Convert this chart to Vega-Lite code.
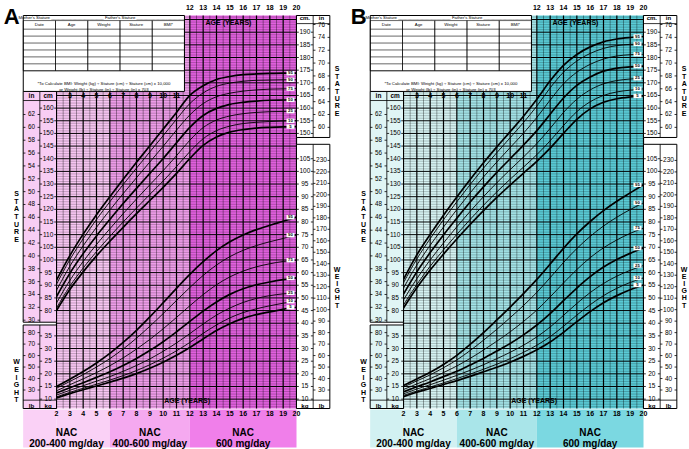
{
"$schema":"https://vega.github.io/schema/vega-lite/v6.json",
"background":"#ffffff",
"padding":{"left":3.5,"top":3.5,"right":0,"bottom":0},
"spacing":10,
"resolve":{"scale":{"x":"independent","y":"independent","color":"independent","fill":"independent"}},
"config":{"view":{"stroke":null},"text":{"font":"Liberation Sans, Arial, sans-serif","color":"#000"}},
"datasets":{
"gS":[
{"age":2,"5":80.0,"10":81.0,"25":83.0,"50":85.5,"75":88.0,"90":90.4,"95":92.0},
{"age":3,"5":88.3,"10":89.6,"25":91.9,"50":94.7,"75":97.5,"90":100.1,"95":101.7},
{"age":4,"5":95.3,"10":96.8,"25":99.4,"50":102.5,"75":105.6,"90":108.4,"95":110.2},
{"age":5,"5":101.6,"10":103.3,"25":106.1,"50":109.5,"75":112.9,"90":116.0,"95":117.9},
{"age":6,"5":107.4,"10":109.3,"25":112.3,"50":116.0,"75":119.7,"90":123.0,"95":125.0},
{"age":7,"5":112.9,"10":115.0,"25":118.3,"50":122.3,"75":126.2,"90":129.8,"95":131.9},
{"age":8,"5":118.3,"10":120.5,"25":124.1,"50":128.3,"75":132.5,"90":136.3,"95":138.6},
{"age":9,"5":123.5,"10":125.9,"25":129.7,"50":134.2,"75":138.7,"90":142.7,"95":145.1},
{"age":10,"5":128.7,"10":131.2,"25":135.3,"50":140.1,"75":144.9,"90":149.1,"95":151.7},
{"age":11,"5":134.2,"10":136.9,"25":141.2,"50":146.3,"75":151.3,"90":155.6,"95":158.3},
{"age":12,"5":140.1,"10":142.8,"25":147.3,"50":152.4,"75":157.3,"90":161.8,"95":165.0},
{"age":13,"5":145.3,"10":147.9,"25":152.3,"50":157.1,"75":161.8,"90":166.0,"95":168.8},
{"age":14,"5":148.6,"10":151.1,"25":155.3,"50":159.9,"75":164.5,"90":168.6,"95":171.3},
{"age":15,"5":150.5,"10":152.9,"25":156.9,"50":161.5,"75":165.9,"90":169.9,"95":172.5},
{"age":16,"5":151.5,"10":153.9,"25":157.8,"50":162.3,"75":166.7,"90":170.6,"95":173.2},
{"age":17,"5":152.1,"10":154.4,"25":158.3,"50":162.8,"75":167.2,"90":171.0,"95":173.5},
{"age":18,"5":152.4,"10":154.7,"25":158.6,"50":163.1,"75":167.5,"90":171.1,"95":173.7},
{"age":19,"5":152.6,"10":154.9,"25":158.7,"50":163.2,"75":167.6,"90":171.2,"95":173.8},
{"age":20,"5":152.7,"10":155.0,"25":158.8,"50":163.3,"75":167.7,"90":171.2,"95":173.8}],
"gW":[
{"age":2,"5":10.5,"10":10.9,"25":11.6,"50":12.4,"75":13.3,"90":14.3,"95":15.0},
{"age":3,"5":12.2,"10":12.7,"25":13.5,"50":14.5,"75":15.7,"90":17.0,"95":17.9},
{"age":4,"5":13.7,"10":14.3,"25":15.3,"50":16.5,"75":18.0,"90":19.7,"95":20.9},
{"age":5,"5":15.2,"10":15.9,"25":17.1,"50":18.6,"75":20.5,"90":22.7,"95":24.3},
{"age":6,"5":16.7,"10":17.5,"25":18.9,"50":20.8,"75":23.2,"90":26.0,"95":28.1},
{"age":7,"5":18.3,"10":19.3,"25":21.0,"50":23.3,"75":26.3,"90":29.8,"95":32.4},
{"age":8,"5":20.1,"10":21.3,"25":23.3,"50":26.1,"75":29.8,"90":34.1,"95":37.2},
{"age":9,"5":22.2,"10":23.6,"25":25.9,"50":29.2,"75":33.6,"90":38.8,"95":42.5},
{"age":10,"5":24.6,"10":26.2,"25":28.9,"50":32.7,"75":37.8,"90":43.8,"95":48.1},
{"age":11,"5":27.3,"10":29.1,"25":32.2,"50":36.6,"75":42.3,"90":49.0,"95":53.8},
{"age":12,"5":30.4,"10":32.4,"25":35.9,"50":40.7,"75":46.9,"90":54.1,"95":59.3},
{"age":13,"5":33.8,"10":36.0,"25":39.7,"50":44.8,"75":51.3,"90":58.9,"95":64.3},
{"age":14,"5":37.1,"10":39.3,"25":43.2,"50":48.4,"75":55.2,"90":63.0,"95":68.7},
{"age":15,"5":39.8,"10":42.1,"25":46.0,"50":51.4,"75":58.3,"90":66.3,"95":72.2},
{"age":16,"5":41.9,"10":44.2,"25":48.2,"50":53.6,"75":60.6,"90":68.8,"95":74.9},
{"age":17,"5":43.4,"10":45.7,"25":49.8,"50":55.2,"75":62.3,"90":70.7,"95":77.0},
{"age":18,"5":44.5,"10":46.9,"25":50.9,"50":56.3,"75":63.5,"90":72.2,"95":78.7},
{"age":19,"5":45.5,"10":47.9,"25":51.6,"50":57.2,"75":64.4,"90":73.5,"95":80.3},
{"age":20,"5":46.3,"10":48.7,"25":52.0,"50":57.9,"75":64.9,"90":74.8,"95":81.9}],
"bS":[
{"age":2,"5":81.0,"10":82.2,"25":84.2,"50":86.5,"75":88.9,"90":91.0,"95":92.3},
{"age":3,"5":89.0,"10":90.3,"25":92.6,"50":95.3,"75":98.0,"90":100.4,"95":102.0},
{"age":4,"5":96.0,"10":97.5,"25":100.0,"50":102.9,"75":105.8,"90":108.4,"95":110.1},
{"age":5,"5":102.3,"10":104.0,"25":106.7,"50":109.9,"75":113.0,"90":115.9,"95":117.7},
{"age":6,"5":108.3,"10":110.1,"25":113.1,"50":116.5,"75":119.9,"90":123.0,"95":124.9},
{"age":7,"5":114.0,"10":116.0,"25":119.2,"50":122.9,"75":126.5,"90":129.8,"95":131.8},
{"age":8,"5":119.5,"10":121.6,"25":125.0,"50":128.9,"75":132.8,"90":136.3,"95":138.4},
{"age":9,"5":124.7,"10":126.9,"25":130.5,"50":134.6,"75":138.7,"90":142.4,"95":144.7},
{"age":10,"5":129.6,"10":131.9,"25":135.7,"50":140.0,"75":144.4,"90":148.3,"95":150.7},
{"age":11,"5":134.3,"10":136.7,"25":140.7,"50":145.4,"75":150.1,"90":154.3,"95":156.8},
{"age":12,"5":139.0,"10":141.6,"25":146.0,"50":151.1,"75":156.3,"90":160.8,"95":163.5},
{"age":13,"5":144.2,"10":147.1,"25":152.0,"50":157.6,"75":163.2,"90":168.0,"95":170.8},
{"age":14,"5":150.0,"10":153.1,"25":158.3,"50":164.0,"75":169.6,"90":174.2,"95":176.9},
{"age":15,"5":155.6,"10":158.6,"25":163.5,"50":169.0,"75":174.2,"90":178.6,"95":181.2},
{"age":16,"5":159.7,"10":162.5,"25":167.2,"50":172.3,"75":177.3,"90":181.6,"95":184.2},
{"age":17,"5":162.3,"10":165.0,"25":169.6,"50":174.6,"75":179.4,"90":183.6,"95":186.2},
{"age":18,"5":163.7,"10":166.4,"25":170.9,"50":175.8,"75":180.6,"90":184.7,"95":187.3},
{"age":19,"5":164.4,"10":167.1,"25":171.5,"50":176.3,"75":181.1,"90":185.2,"95":187.9},
{"age":20,"5":164.8,"10":167.6,"25":171.8,"50":176.6,"75":181.3,"90":185.4,"95":188.3}],
"bW":[
{"age":2,"5":11.0,"10":11.5,"25":12.1,"50":12.9,"75":13.8,"90":14.8,"95":15.4},
{"age":3,"5":12.7,"10":13.2,"25":14.0,"50":14.9,"75":16.0,"90":17.2,"95":18.0},
{"age":4,"5":14.2,"10":14.8,"25":15.7,"50":16.8,"75":18.1,"90":19.6,"95":20.6},
{"age":5,"5":15.8,"10":16.4,"25":17.5,"50":18.9,"75":20.5,"90":22.4,"95":23.7},
{"age":6,"5":17.3,"10":18.1,"25":19.4,"50":21.0,"75":23.1,"90":25.5,"95":27.3},
{"age":7,"5":19.0,"10":19.9,"25":21.4,"50":23.5,"75":26.1,"90":29.2,"95":31.6},
{"age":8,"5":20.8,"10":21.8,"25":23.6,"50":26.1,"75":29.4,"90":33.3,"95":36.3},
{"age":9,"5":22.6,"10":23.8,"25":26.0,"50":29.0,"75":32.9,"90":37.6,"95":41.3},
{"age":10,"5":24.6,"10":26.0,"25":28.5,"50":32.0,"75":36.6,"90":42.2,"95":46.4},
{"age":11,"5":26.9,"10":28.5,"25":31.3,"50":35.4,"75":40.7,"90":47.0,"95":51.7},
{"age":12,"5":29.5,"10":31.3,"25":34.6,"50":39.3,"75":45.2,"90":52.2,"95":57.3},
{"age":13,"5":32.6,"10":34.7,"25":38.5,"50":43.8,"75":50.4,"90":58.0,"95":63.4},
{"age":14,"5":36.4,"10":38.8,"25":43.1,"50":48.9,"75":55.9,"90":64.0,"95":69.6},
{"age":15,"5":40.6,"10":43.2,"25":47.8,"50":53.9,"75":61.2,"90":69.5,"95":75.3},
{"age":16,"5":44.6,"10":47.3,"25":52.1,"50":58.4,"75":65.9,"90":74.3,"95":80.2},
{"age":17,"5":48.1,"10":50.9,"25":55.7,"50":62.2,"75":69.8,"90":78.4,"95":84.5},
{"age":18,"5":50.9,"10":53.8,"25":58.6,"50":65.2,"75":72.9,"90":81.9,"95":88.2},
{"age":19,"5":53.2,"10":56.1,"25":60.9,"50":67.6,"75":75.5,"90":84.9,"95":91.5},
{"age":20,"5":55.1,"10":57.9,"25":62.8,"50":69.7,"75":77.6,"90":87.6,"95":94.7}],
"bands":[{"from":2,"to":6,"dose":"NAC\n200-400 mg/day"},{"from":6,"to":12,"dose":"NAC\n400-600 mg/day"},{"from":12,"to":20,"dose":"NAC\n600 mg/day"}],
"vg":[{"a":2},{"a":2.5},{"a":3},{"a":3.5},{"a":4},{"a":4.5},{"a":5},{"a":5.5},{"a":6},{"a":6.5},{"a":7},{"a":7.5},{"a":8},{"a":8.5},{"a":9},{"a":9.5},{"a":10},{"a":10.5},{"a":11},{"a":11.5},{"a":12},{"a":12.5},{"a":13},{"a":13.5},{"a":14},{"a":14.5},{"a":15},{"a":15.5},{"a":16},{"a":16.5},{"a":17},{"a":17.5},{"a":18},{"a":18.5},{"a":19},{"a":19.5},{"a":20}],
"hg":[{"c":42},{"c":43},{"c":44},{"c":45},{"c":46},{"c":47},{"c":48},{"c":49},{"c":50},{"c":51},{"c":52},{"c":53},{"c":54},{"c":55},{"c":56},{"c":57},{"c":58},{"c":59},{"c":60},{"c":61},{"c":62},{"c":63},{"c":64},{"c":65},{"c":66},{"c":67},{"c":68},{"c":69},{"c":70},{"c":71},{"c":72},{"c":73},{"c":74},{"c":75},{"c":76},{"c":77},{"c":78},{"c":79},{"c":80},{"c":81},{"c":82},{"c":83},{"c":84},{"c":85},{"c":86},{"c":87},{"c":88},{"c":89},{"c":90},{"c":91},{"c":92},{"c":93},{"c":94},{"c":95},{"c":96},{"c":97},{"c":98},{"c":99},{"c":100},{"c":101},{"c":102},{"c":103},{"c":104},{"c":105},{"c":106},{"c":107},{"c":108},{"c":109},{"c":110},{"c":111},{"c":112},{"c":113},{"c":114},{"c":115},{"c":116},{"c":117},{"c":118},{"c":119},{"c":120},{"c":121},{"c":122},{"c":123},{"c":124},{"c":125},{"c":126},{"c":127},{"c":128},{"c":129},{"c":130},{"c":131},{"c":132},{"c":133},{"c":134},{"c":135},{"c":136},{"c":137},{"c":138},{"c":139},{"c":140},{"c":141},{"c":142},{"c":143},{"c":144},{"c":145},{"c":146},{"c":147},{"c":148},{"c":149},{"c":150},{"c":151},{"c":152},{"c":153},{"c":154},{"c":155},{"c":156},{"c":157},{"c":158},{"c":159},{"c":160},{"c":161},{"c":162},{"c":163},{"c":164},{"c":165},{"c":166},{"c":167},{"c":168},{"c":169},{"c":170},{"c":171},{"c":172},{"c":173},{"c":174},{"c":175},{"c":176},{"c":177},{"c":178},{"c":179},{"c":180},{"c":181},{"c":182},{"c":183},{"c":184},{"c":185},{"c":186},{"c":187},{"c":188},{"c":189},{"c":190},{"c":191},{"c":192},{"c":193},{"c":194},{"c":195},{"c":196}],
"one":[{}],
"sides":[{"s":0},{"s":1}],
"formRows":[{"row":1},{"row":2},{"row":3},{"row":4},{"row":5},{"row":6},{"row":7}],
"formCols":[{"col":1,"head":"Date"},{"col":2,"head":"Age"},{"col":3,"head":"Weight"},{"col":4,"head":"Stature"},{"col":5,"head":"BMI*"}],
"cmT":[{"s":0,"v":80},{"s":0,"v":85},{"s":0,"v":90},{"s":0,"v":95},{"s":0,"v":100},{"s":0,"v":105},{"s":0,"v":110},{"s":0,"v":115},{"s":0,"v":120},{"s":0,"v":125},{"s":0,"v":130},{"s":0,"v":135},{"s":0,"v":140},{"s":0,"v":145},{"s":0,"v":150},{"s":0,"v":155},{"s":0,"v":160},{"s":1,"v":150},{"s":1,"v":155},{"s":1,"v":160},{"s":1,"v":165},{"s":1,"v":170},{"s":1,"v":175},{"s":1,"v":180},{"s":1,"v":185},{"s":1,"v":190}],
"inT":[{"s":0,"v":30},{"s":0,"v":32},{"s":0,"v":34},{"s":0,"v":36},{"s":0,"v":38},{"s":0,"v":40},{"s":0,"v":42},{"s":0,"v":44},{"s":0,"v":46},{"s":0,"v":48},{"s":0,"v":50},{"s":0,"v":52},{"s":0,"v":54},{"s":0,"v":56},{"s":0,"v":58},{"s":0,"v":60},{"s":0,"v":62},{"s":1,"v":60},{"s":1,"v":62},{"s":1,"v":64},{"s":1,"v":66},{"s":1,"v":68},{"s":1,"v":70},{"s":1,"v":72},{"s":1,"v":74},{"s":1,"v":76}],
"kgT":[{"s":0,"v":10},{"s":0,"v":15},{"s":0,"v":20},{"s":0,"v":25},{"s":0,"v":30},{"s":0,"v":35},{"s":1,"v":10},{"s":1,"v":15},{"s":1,"v":20},{"s":1,"v":25},{"s":1,"v":30},{"s":1,"v":35},{"s":1,"v":40},{"s":1,"v":45},{"s":1,"v":50},{"s":1,"v":55},{"s":1,"v":60},{"s":1,"v":65},{"s":1,"v":70},{"s":1,"v":75},{"s":1,"v":80},{"s":1,"v":85},{"s":1,"v":90},{"s":1,"v":95},{"s":1,"v":100},{"s":1,"v":105}],
"lbT":[{"s":0,"v":30},{"s":0,"v":40},{"s":0,"v":50},{"s":0,"v":60},{"s":0,"v":70},{"s":0,"v":80},{"s":1,"v":30},{"s":1,"v":40},{"s":1,"v":50},{"s":1,"v":60},{"s":1,"v":70},{"s":1,"v":80},{"s":1,"v":90},{"s":1,"v":100},{"s":1,"v":110},{"s":1,"v":120},{"s":1,"v":130},{"s":1,"v":140},{"s":1,"v":150},{"s":1,"v":160},{"s":1,"v":170},{"s":1,"v":180},{"s":1,"v":190},{"s":1,"v":200},{"s":1,"v":210},{"s":1,"v":220},{"s":1,"v":230}]
},
"hconcat":[
{"width":240,"height":393,
"resolve":{"scale":{"x":"independent","y":"independent","color":"independent","fill":"independent"}},
"layer":[
{"layer":[
{"data":{"name":"bands"},"mark":{"type":"rect"},"encoding":{
"x":{"field":"from","type":"quantitative","scale":{"domain":[2,20],"nice":false,"zero":false},"axis":null},
"x2":{"field":"to"},
"y":{"datum":41.3,"type":"quantitative","scale":{"domain":[41.3,196.6],"nice":false,"zero":false},"axis":null},
"y2":{"datum":196.6},
"color":{"field":"dose","type":"nominal","scale":{"domain":["NAC\n200-400 mg/day","NAC\n400-600 mg/day","NAC\n600 mg/day"],"range":["#f7c6f2","#ee9de9","#e160de"]},"legend":null}}},
{"data":{"name":"hg"},"mark":{"type":"rule","color":"#000"},"encoding":{"x":{"datum":2,"type":"quantitative","scale":{"domain":[2,20],"nice":false,"zero":false},"axis":null},"x2":{"datum":20},"y":{"field":"c","type":"quantitative","scale":{"domain":[41.3,196.6],"nice":false,"zero":false},"axis":null},"strokeWidth":{"condition":{"test":"datum.c % 5 === 0","value":1},"value":0.4},"opacity":{"condition":{"test":"datum.c % 5 === 0","value":1},"value":0.55}}},
{"data":{"name":"vg"},"mark":{"type":"rule","color":"#000"},"encoding":{"x":{"field":"a","type":"quantitative","scale":{"domain":[2,20],"nice":false,"zero":false},"axis":null},"y":{"datum":41.3,"type":"quantitative","scale":{"domain":[41.3,196.6],"nice":false,"zero":false},"axis":null},"y2":{"datum":196.6},"strokeWidth":{"condition":{"test":"datum.a % 1 === 0","value":1.2},"value":0.5},"opacity":{"condition":{"test":"datum.a % 1 === 0","value":1},"value":0.7}}},
{"data":{"name":"gS"},"transform":[{"fold":["5","10","25","50","75","90","95"],"as":["pct","cm"]}],"mark":{"type":"line","interpolate":"monotone","color":"#000"},"encoding":{"x":{"field":"age","type":"quantitative","scale":{"domain":[2,20],"nice":false,"zero":false},"axis":null},"y":{"field":"cm","type":"quantitative","scale":{"domain":[41.3,196.6],"nice":false,"zero":false},"axis":null},"detail":{"field":"pct","type":"nominal"},"strokeWidth":{"condition":{"test":"datum.pct==='5'||datum.pct==='50'||datum.pct==='95'","value":1.7},"value":0.9}}},
{"data":{"name":"gS"},"transform":[{"filter":"datum.age===20"},{"fold":["5","10","25","50","75","90","95"],"as":["pct","cm"]}],"mark":{"type":"rect","fill":"#fff","yOffset":-2.2,"y2Offset":2.2},"encoding":{"x":{"datum":19.25,"type":"quantitative","scale":{"domain":[2,20],"nice":false,"zero":false},"axis":null},"x2":{"datum":19.85},"y":{"field":"cm","type":"quantitative","scale":{"domain":[41.3,196.6],"nice":false,"zero":false},"axis":null},"y2":{"field":"cm"}}},
{"data":{"name":"gS"},"transform":[{"filter":"datum.age===20"},{"fold":["5","10","25","50","75","90","95"],"as":["pct","cm"]}],"mark":{"type":"text","fontSize":4.3,"fontWeight":"bold","align":"center","baseline":"middle"},"encoding":{"x":{"datum":19.55,"type":"quantitative","scale":{"domain":[2,20],"nice":false,"zero":false},"axis":null},"y":{"field":"cm","type":"quantitative","scale":{"domain":[41.3,196.6],"nice":false,"zero":false},"axis":null},"text":{"field":"pct","type":"nominal"}}},
{"data":{"name":"one"},"mark":{"type":"rect","fill":"#f8cdf4","stroke":"#000","strokeWidth":1},"encoding":{"x":{"datum":-0.5,"type":"quantitative","scale":{"domain":[2,20],"nice":false,"zero":false},"axis":null},"x2":{"datum":2},"y":{"datum":75.4,"type":"quantitative","scale":{"domain":[41.3,196.6],"nice":false,"zero":false},"axis":null},"y2":{"datum":166.6}}},
{"data":{"name":"one"},"mark":{"type":"rect","fill":"#f8cdf4","stroke":"#000","strokeWidth":1},"encoding":{"x":{"datum":-0.5,"type":"quantitative","scale":{"domain":[2,20],"nice":false,"zero":false},"axis":null},"x2":{"datum":2},"y":{"datum":41.3,"type":"quantitative","scale":{"domain":[41.3,196.6],"nice":false,"zero":false},"axis":null},"y2":{"datum":74.3}}},
{"data":{"name":"one"},"mark":{"type":"rect","fill":"#ffffff","stroke":"#000","strokeWidth":1},"encoding":{"x":{"datum":20,"type":"quantitative","scale":{"domain":[2,20],"nice":false,"zero":false},"axis":null},"x2":{"datum":22.5},"y":{"datum":148.4,"type":"quantitative","scale":{"domain":[41.3,196.6],"nice":false,"zero":false},"axis":null},"y2":{"datum":196.6}}},
{"data":{"name":"one"},"mark":{"type":"rect","fill":"#ffffff","stroke":"#000","strokeWidth":1},"encoding":{"x":{"datum":20,"type":"quantitative","scale":{"domain":[2,20],"nice":false,"zero":false},"axis":null},"x2":{"datum":22.5},"y":{"datum":41.3,"type":"quantitative","scale":{"domain":[41.3,196.6],"nice":false,"zero":false},"axis":null},"y2":{"datum":145.7}}},
{"data":{"name":"one"},"mark":{"type":"rule","color":"#000","strokeWidth":0.8},"encoding":{"x":{"datum":0.75,"type":"quantitative","scale":{"domain":[2,20],"nice":false,"zero":false},"axis":null},"y":{"datum":75.4,"type":"quantitative","scale":{"domain":[41.3,196.6],"nice":false,"zero":false},"axis":null},"y2":{"datum":166.6}}},
{"data":{"name":"one"},"mark":{"type":"rule","color":"#000","strokeWidth":0.8},"encoding":{"x":{"datum":0.75,"type":"quantitative","scale":{"domain":[2,20],"nice":false,"zero":false},"axis":null},"y":{"datum":41.3,"type":"quantitative","scale":{"domain":[41.3,196.6],"nice":false,"zero":false},"axis":null},"y2":{"datum":74.3}}},
{"data":{"name":"one"},"mark":{"type":"rule","color":"#000","strokeWidth":0.8},"encoding":{"x":{"datum":21.25,"type":"quantitative","scale":{"domain":[2,20],"nice":false,"zero":false},"axis":null},"y":{"datum":148.4,"type":"quantitative","scale":{"domain":[41.3,196.6],"nice":false,"zero":false},"axis":null},"y2":{"datum":196.6}}},
{"data":{"name":"one"},"mark":{"type":"rule","color":"#000","strokeWidth":0.8},"encoding":{"x":{"datum":21.25,"type":"quantitative","scale":{"domain":[2,20],"nice":false,"zero":false},"axis":null},"y":{"datum":41.3,"type":"quantitative","scale":{"domain":[41.3,196.6],"nice":false,"zero":false},"axis":null},"y2":{"datum":145.7}}},
{"data":{"name":"one"},"mark":{"type":"rule","color":"#000","strokeWidth":0.8},"encoding":{"x":{"datum":-0.5,"type":"quantitative","scale":{"domain":[2,20],"nice":false,"zero":false},"axis":null},"x2":{"datum":2},"y":{"datum":163.0,"type":"quantitative","scale":{"domain":[41.3,196.6],"nice":false,"zero":false},"axis":null}}},
{"data":{"name":"one"},"mark":{"type":"rule","color":"#000","strokeWidth":0.8},"encoding":{"x":{"datum":-0.5,"type":"quantitative","scale":{"domain":[2,20],"nice":false,"zero":false},"axis":null},"x2":{"datum":2},"y":{"datum":44.6,"type":"quantitative","scale":{"domain":[41.3,196.6],"nice":false,"zero":false},"axis":null}}},
{"data":{"name":"one"},"mark":{"type":"rule","color":"#000","strokeWidth":0.8},"encoding":{"x":{"datum":20,"type":"quantitative","scale":{"domain":[2,20],"nice":false,"zero":false},"axis":null},"x2":{"datum":22.5},"y":{"datum":193.4,"type":"quantitative","scale":{"domain":[41.3,196.6],"nice":false,"zero":false},"axis":null}}},
{"data":{"name":"one"},"mark":{"type":"rule","color":"#000","strokeWidth":0.8},"encoding":{"x":{"datum":20,"type":"quantitative","scale":{"domain":[2,20],"nice":false,"zero":false},"axis":null},"x2":{"datum":22.5},"y":{"datum":44.6,"type":"quantitative","scale":{"domain":[41.3,196.6],"nice":false,"zero":false},"axis":null}}},
{"data":{"name":"bands"},"mark":{"type":"rect"},"encoding":{"x":{"field":"from","type":"quantitative","scale":{"domain":[2,20],"nice":false,"zero":false},"axis":null},"x2":{"field":"to"},"y":{"datum":25.85,"type":"quantitative","scale":{"domain":[41.3,196.6],"nice":false,"zero":false},"axis":null},"y2":{"datum":40.87},"fill":{"field":"dose","type":"nominal","scale":{"domain":["NAC\n200-400 mg/day","NAC\n400-600 mg/day","NAC\n600 mg/day"],"range":["#fad1f6","#f5a9f0","#f07fea"]},"legend":null}}},
{"data":{"name":"one"},"mark":{"type":"rect","fill":"#fad1f6"},"encoding":{"x":{"datum":-0.5,"type":"quantitative","scale":{"domain":[2,20],"nice":false,"zero":false},"axis":null},"x2":{"datum":2},"y":{"datum":25.85,"type":"quantitative","scale":{"domain":[41.3,196.6],"nice":false,"zero":false},"axis":null},"y2":{"datum":40.87}}},
{"data":{"name":"bands"},"transform":[{"filter":"datum.from===2"}],"mark":{"type":"text","fontSize":10,"fontWeight":"bold","lineBreak":"\n","lineHeight":11.5,"align":"center","baseline":"middle"},"encoding":{"x":{"datum":2.75,"type":"quantitative","scale":{"domain":[2,20],"nice":false,"zero":false},"axis":null},"y":{"datum":31.8,"type":"quantitative","scale":{"domain":[41.3,196.6],"nice":false,"zero":false},"axis":null},"text":{"field":"dose","type":"nominal"}}},
{"data":{"name":"bands"},"transform":[{"filter":"datum.from===6"}],"mark":{"type":"text","fontSize":10,"fontWeight":"bold","lineBreak":"\n","lineHeight":11.5,"align":"center","baseline":"middle"},"encoding":{"x":{"datum":9,"type":"quantitative","scale":{"domain":[2,20],"nice":false,"zero":false},"axis":null},"y":{"datum":31.8,"type":"quantitative","scale":{"domain":[41.3,196.6],"nice":false,"zero":false},"axis":null},"text":{"field":"dose","type":"nominal"}}},
{"data":{"name":"bands"},"transform":[{"filter":"datum.from===12"}],"mark":{"type":"text","fontSize":10,"fontWeight":"bold","lineBreak":"\n","lineHeight":11.5,"align":"center","baseline":"middle"},"encoding":{"x":{"datum":16,"type":"quantitative","scale":{"domain":[2,20],"nice":false,"zero":false},"axis":null},"y":{"datum":31.8,"type":"quantitative","scale":{"domain":[41.3,196.6],"nice":false,"zero":false},"axis":null},"text":{"field":"dose","type":"nominal"}}},
{"data":{"name":"gS"},"mark":{"type":"text","fontSize":7,"fontWeight":"bold","align":"center","baseline":"middle"},"encoding":{"x":{"field":"age","type":"quantitative","scale":{"domain":[2,20],"nice":false,"zero":false},"axis":null},"y":{"datum":39.2,"type":"quantitative","scale":{"domain":[41.3,196.6],"nice":false,"zero":false},"axis":null},"text":{"field":"age","type":"quantitative"}}},
{"data":{"name":"gS"},"transform":[{"filter":"datum.age>=12"}],"mark":{"type":"text","fontSize":7,"fontWeight":"bold","align":"center","baseline":"middle"},"encoding":{"x":{"field":"age","type":"quantitative","scale":{"domain":[2,20],"nice":false,"zero":false},"axis":null},"y":{"datum":199.4,"type":"quantitative","scale":{"domain":[41.3,196.6],"nice":false,"zero":false},"axis":null},"text":{"field":"age","type":"quantitative"}}},
{"data":{"name":"gS"},"transform":[{"filter":"datum.age>=3 && datum.age<=11"}],"mark":{"type":"text","fontSize":7,"fontWeight":"bold","align":"center","baseline":"middle"},"encoding":{"x":{"field":"age","type":"quantitative","scale":{"domain":[2,20],"nice":false,"zero":false},"axis":null},"y":{"datum":164.9,"type":"quantitative","scale":{"domain":[41.3,196.6],"nice":false,"zero":false},"axis":null},"text":{"field":"age","type":"quantitative"}}},
{"data":{"name":"one"},"mark":{"type":"text","text":"AGE (YEARS)","fontSize":7,"fontWeight":"bold","align":"center","baseline":"middle"},"encoding":{"x":{"datum":14.9,"type":"quantitative","scale":{"domain":[2,20],"nice":false,"zero":false},"axis":null},"y":{"datum":193.6,"type":"quantitative","scale":{"domain":[41.3,196.6],"nice":false,"zero":false},"axis":null}}},
{"data":{"name":"one"},"mark":{"type":"text","text":"AGE (YEARS)","fontSize":7,"fontWeight":"bold","align":"center","baseline":"middle"},"encoding":{"x":{"datum":11.8,"type":"quantitative","scale":{"domain":[2,20],"nice":false,"zero":false},"axis":null},"y":{"datum":44.3,"type":"quantitative","scale":{"domain":[41.3,196.6],"nice":false,"zero":false},"axis":null}}},
{"data":{"name":"one"},"mark":{"type":"text","text":"S\nT\nA\nT\nU\nR\nE","lineBreak":"\n","lineHeight":7.6,"fontSize":7,"fontWeight":"bold","align":"center","baseline":"middle"},"encoding":{"x":{"datum":-1.0,"type":"quantitative","scale":{"domain":[2,20],"nice":false,"zero":false},"axis":null},"y":{"datum":126.0,"type":"quantitative","scale":{"domain":[41.3,196.6],"nice":false,"zero":false},"axis":null}}},
{"data":{"name":"one"},"mark":{"type":"text","text":"W\nE\nI\nG\nH\nT","lineBreak":"\n","lineHeight":7.6,"fontSize":7,"fontWeight":"bold","align":"center","baseline":"middle"},"encoding":{"x":{"datum":-1.0,"type":"quantitative","scale":{"domain":[2,20],"nice":false,"zero":false},"axis":null},"y":{"datum":59.5,"type":"quantitative","scale":{"domain":[41.3,196.6],"nice":false,"zero":false},"axis":null}}},
{"data":{"name":"one"},"mark":{"type":"text","text":"S\nT\nA\nT\nU\nR\nE","lineBreak":"\n","lineHeight":7.4,"fontSize":7,"fontWeight":"bold","align":"center","baseline":"middle"},"encoding":{"x":{"datum":23.05,"type":"quantitative","scale":{"domain":[2,20],"nice":false,"zero":false},"axis":null},"y":{"datum":175.3,"type":"quantitative","scale":{"domain":[41.3,196.6],"nice":false,"zero":false},"axis":null}}},
{"data":{"name":"one"},"mark":{"type":"text","text":"W\nE\nI\nG\nH\nT","lineBreak":"\n","lineHeight":7.1,"fontSize":7,"fontWeight":"bold","align":"center","baseline":"middle"},"encoding":{"x":{"datum":23.05,"type":"quantitative","scale":{"domain":[2,20],"nice":false,"zero":false},"axis":null},"y":{"datum":96.0,"type":"quantitative","scale":{"domain":[41.3,196.6],"nice":false,"zero":false},"axis":null}}},
{"data":{"name":"one"},"mark":{"type":"text","text":"A","fontSize":22,"fontWeight":"bold","align":"left","baseline":"alphabetic"},"encoding":{"x":{"datum":-1.95,"type":"quantitative","scale":{"domain":[2,20],"nice":false,"zero":false},"axis":null},"y":{"datum":193.2,"type":"quantitative","scale":{"domain":[41.3,196.6],"nice":false,"zero":false},"axis":null}}}
]},
{"layer":[
{"data":{"name":"gW"},"transform":[{"fold":["5","10","25","50","75","90","95"],"as":["pct","kg"]}],"mark":{"type":"line","interpolate":"monotone","color":"#000"},"encoding":{"x":{"field":"age","type":"quantitative","scale":{"domain":[2,20],"nice":false,"zero":false},"axis":null},"y":{"field":"kg","type":"quantitative","scale":{"domain":[6.3,161.6],"nice":false,"zero":false},"axis":null},"detail":{"field":"pct","type":"nominal"},"strokeWidth":{"condition":{"test":"datum.pct==='5'||datum.pct==='50'||datum.pct==='95'","value":1.7},"value":0.9}}},
{"data":{"name":"gW"},"transform":[{"filter":"datum.age===20"},{"fold":["5","10","25","50","75","90","95"],"as":["pct","kg"]}],"mark":{"type":"rect","fill":"#fff","yOffset":-2.2,"y2Offset":2.2},"encoding":{"x":{"datum":19.25,"type":"quantitative","scale":{"domain":[2,20],"nice":false,"zero":false},"axis":null},"x2":{"datum":19.85},"y":{"field":"kg","type":"quantitative","scale":{"domain":[6.3,161.6],"nice":false,"zero":false},"axis":null},"y2":{"field":"kg"}}},
{"data":{"name":"gW"},"transform":[{"filter":"datum.age===20"},{"fold":["5","10","25","50","75","90","95"],"as":["pct","kg"]}],"mark":{"type":"text","fontSize":4.3,"fontWeight":"bold","align":"center","baseline":"middle"},"encoding":{"x":{"datum":19.55,"type":"quantitative","scale":{"domain":[2,20],"nice":false,"zero":false},"axis":null},"y":{"field":"kg","type":"quantitative","scale":{"domain":[6.3,161.6],"nice":false,"zero":false},"axis":null},"text":{"field":"pct","type":"nominal"}}}
]},
{"layer":[
{"data":{"name":"one"},"mark":{"type":"rect","fill":"#fff","stroke":"#000","strokeWidth":1},"encoding":{"x":{"datum":0.5,"type":"quantitative","scale":{"domain":[1.531,8.975],"nice":false,"zero":false},"axis":null},"x2":{"datum":5.5},"y":{"datum":-0.971,"type":"quantitative","scale":{"domain":[-0.971,55.708],"reverse":true,"nice":false,"zero":false},"axis":null},"y2":{"datum":9.98}}},
{"data":{"name":"formCols"},"mark":{"type":"rect","width":32.24,"fill":"#fff","fillOpacity":0,"stroke":"#000","strokeWidth":0.6},"encoding":{"x":{"field":"col","type":"quantitative","scale":{"domain":[1.531,8.975],"nice":false,"zero":false},"axis":null},"y":{"datum":-0.24,"type":"quantitative","scale":{"domain":[-0.971,55.708],"reverse":true,"nice":false,"zero":false},"axis":null},"y2":{"datum":7}}},
{"data":{"name":"formCols"},"mark":{"type":"text","fontSize":4.3,"align":"center","baseline":"middle"},"encoding":{"x":{"field":"col","type":"quantitative","scale":{"domain":[1.531,8.975],"nice":false,"zero":false},"axis":null},"y":{"datum":0.38,"type":"quantitative","scale":{"domain":[-0.971,55.708],"reverse":true,"nice":false,"zero":false},"axis":null},"text":{"field":"head","type":"nominal"}}},
{"data":{"name":"formRows"},"mark":{"type":"rule","color":"#000","strokeWidth":0.6},"encoding":{"x":{"datum":0.5,"type":"quantitative","scale":{"domain":[1.531,8.975],"nice":false,"zero":false},"axis":null},"x2":{"datum":5.5},"y":{"field":"row","type":"quantitative","scale":{"domain":[-0.971,55.708],"reverse":true,"nice":false,"zero":false},"axis":null}}},
{"data":{"name":"one"},"mark":{"type":"text","text":"Mother's Stature ______________________     Father's Stature ______________________","fontSize":4.3,"align":"center","baseline":"middle"},"encoding":{"x":{"datum":3,"type":"quantitative","scale":{"domain":[1.531,8.975],"nice":false,"zero":false},"axis":null},"y":{"datum":-0.6,"type":"quantitative","scale":{"domain":[-0.971,55.708],"reverse":true,"nice":false,"zero":false},"axis":null}}},
{"data":{"name":"one"},"mark":{"type":"text","text":"*To Calculate BMI: Weight (kg) ÷ Stature (cm) ÷ Stature (cm) x 10,000\nor Weight (lb) ÷ Stature (in) ÷ Stature (in) x 703","lineBreak":"\n","lineHeight":6,"fontSize":4.3,"align":"center","baseline":"middle"},"encoding":{"x":{"datum":3,"type":"quantitative","scale":{"domain":[1.531,8.975],"nice":false,"zero":false},"axis":null},"y":{"datum":8.85,"type":"quantitative","scale":{"domain":[-0.971,55.708],"reverse":true,"nice":false,"zero":false},"axis":null}}}
]},
{"data":{"name":"cmT"},"layer":[
{"mark":{"type":"rule","color":"#000","strokeWidth":0.8,"xOffset":-8.333,"x2Offset":8.333,"strokeDash":[2.3,12.07]},"encoding":{"x":{"field":"s","type":"quantitative","scale":{"domain":[0.032468,0.967532],"nice":false,"zero":false},"axis":null},"x2":{"field":"s"},"y":{"field":"v","type":"quantitative","scale":{"domain":[41.3,196.6],"nice":false,"zero":false},"axis":null}}},
{"mark":{"type":"text","fontSize":6.5,"align":"center","baseline":"middle"},"encoding":{"x":{"field":"s","type":"quantitative","scale":{"domain":[0.032468,0.967532],"nice":false,"zero":false},"axis":null},"y":{"field":"v","type":"quantitative","scale":{"domain":[41.3,196.6],"nice":false,"zero":false},"axis":null},"text":{"field":"v","type":"quantitative"}}},
{"data":{"name":"one"},"mark":{"type":"text","text":"cm","fontSize":6.5,"fontWeight":"bold","align":"center","baseline":"middle"},"encoding":{"x":{"datum":0,"type":"quantitative","scale":{"domain":[0.032468,0.967532],"nice":false,"zero":false},"axis":null},"y":{"datum":164.8,"type":"quantitative","scale":{"domain":[41.3,196.6],"nice":false,"zero":false},"axis":null}}},
{"data":{"name":"one"},"mark":{"type":"text","text":"cm.","fontSize":6,"fontWeight":"bold","align":"center","baseline":"middle"},"encoding":{"x":{"datum":1,"type":"quantitative","scale":{"domain":[0.032468,0.967532],"nice":false,"zero":false},"axis":null},"y":{"datum":195.6,"type":"quantitative","scale":{"domain":[41.3,196.6],"nice":false,"zero":false},"axis":null}}}
]},
{"data":{"name":"kgT"},"layer":[
{"mark":{"type":"rule","color":"#000","strokeWidth":0.8,"xOffset":-8.333,"x2Offset":8.333,"strokeDash":[2.3,12.07]},"encoding":{"x":{"field":"s","type":"quantitative","scale":{"domain":[0.032468,0.967532],"nice":false,"zero":false},"axis":null},"x2":{"field":"s"},"y":{"field":"v","type":"quantitative","scale":{"domain":[6.3,161.6],"nice":false,"zero":false},"axis":null}}},
{"mark":{"type":"text","fontSize":6.5,"align":"center","baseline":"middle"},"encoding":{"x":{"field":"s","type":"quantitative","scale":{"domain":[0.032468,0.967532],"nice":false,"zero":false},"axis":null},"y":{"field":"v","type":"quantitative","scale":{"domain":[6.3,161.6],"nice":false,"zero":false},"axis":null},"text":{"field":"v","type":"quantitative"}}},
{"data":{"name":"sides"},"mark":{"type":"text","text":"kg","fontSize":6.2,"fontWeight":"bold","align":"center","baseline":"middle"},"encoding":{"x":{"field":"s","type":"quantitative","scale":{"domain":[0.032468,0.967532],"nice":false,"zero":false},"axis":null},"y":{"datum":7.45,"type":"quantitative","scale":{"domain":[6.3,161.6],"nice":false,"zero":false},"axis":null}}}
]},
{"data":{"name":"inT"},"layer":[
{"mark":{"type":"rule","color":"#000","strokeWidth":0.8,"xOffset":-8.333,"x2Offset":8.333,"strokeDash":[2.3,12.07]},"encoding":{"x":{"field":"s","type":"quantitative","scale":{"domain":[0.086207,0.913793],"nice":false,"zero":false},"axis":null},"x2":{"field":"s"},"y":{"field":"v","type":"quantitative","scale":{"domain":[16.2598,77.4016],"nice":false,"zero":false},"axis":null}}},
{"mark":{"type":"text","fontSize":6.3,"align":"center","baseline":"middle"},"encoding":{"x":{"field":"s","type":"quantitative","scale":{"domain":[0.086207,0.913793],"nice":false,"zero":false},"axis":null},"y":{"field":"v","type":"quantitative","scale":{"domain":[16.2598,77.4016],"nice":false,"zero":false},"axis":null},"text":{"field":"v","type":"quantitative"}}},
{"data":{"name":"one"},"mark":{"type":"text","text":"in","fontSize":6.5,"fontWeight":"bold","align":"center","baseline":"middle"},"encoding":{"x":{"datum":0,"type":"quantitative","scale":{"domain":[0.086207,0.913793],"nice":false,"zero":false},"axis":null},"y":{"datum":64.88,"type":"quantitative","scale":{"domain":[16.2598,77.4016],"nice":false,"zero":false},"axis":null}}},
{"data":{"name":"one"},"mark":{"type":"text","text":"in","fontSize":6,"fontWeight":"bold","align":"center","baseline":"middle"},"encoding":{"x":{"datum":1,"type":"quantitative","scale":{"domain":[0.086207,0.913793],"nice":false,"zero":false},"axis":null},"y":{"datum":77.05,"type":"quantitative","scale":{"domain":[16.2598,77.4016],"nice":false,"zero":false},"axis":null}}}
]},
{"data":{"name":"lbT"},"layer":[
{"mark":{"type":"rule","color":"#000","strokeWidth":0.8,"xOffset":-8.333,"x2Offset":8.333,"strokeDash":[2.3,12.07]},"encoding":{"x":{"field":"s","type":"quantitative","scale":{"domain":[0.086207,0.913793],"nice":false,"zero":false},"axis":null},"x2":{"field":"s"},"y":{"field":"v","type":"quantitative","scale":{"domain":[13.889,356.267],"nice":false,"zero":false},"axis":null}}},
{"mark":{"type":"text","fontSize":6.5,"align":"center","baseline":"middle"},"encoding":{"x":{"field":"s","type":"quantitative","scale":{"domain":[0.086207,0.913793],"nice":false,"zero":false},"axis":null},"y":{"field":"v","type":"quantitative","scale":{"domain":[13.889,356.267],"nice":false,"zero":false},"axis":null},"text":{"field":"v","type":"quantitative"}}},
{"data":{"name":"sides"},"mark":{"type":"text","text":"lb","fontSize":6.2,"fontWeight":"bold","align":"center","baseline":"middle"},"encoding":{"x":{"field":"s","type":"quantitative","scale":{"domain":[0.086207,0.913793],"nice":false,"zero":false},"axis":null},"y":{"datum":16.42,"type":"quantitative","scale":{"domain":[13.889,356.267],"nice":false,"zero":false},"axis":null}}}
]}
]},
{"width":240,"height":393,
"resolve":{"scale":{"x":"independent","y":"independent","color":"independent","fill":"independent"}},
"layer":[
{"layer":[
{"data":{"name":"bands"},"mark":{"type":"rect"},"encoding":{
"x":{"field":"from","type":"quantitative","scale":{"domain":[2,20],"nice":false,"zero":false},"axis":null},
"x2":{"field":"to"},
"y":{"datum":41.3,"type":"quantitative","scale":{"domain":[41.3,196.6],"nice":false,"zero":false},"axis":null},
"y2":{"datum":196.6},
"color":{"field":"dose","type":"nominal","scale":{"domain":["NAC\n200-400 mg/day","NAC\n400-600 mg/day","NAC\n600 mg/day"],"range":["#d6f3f3","#a3e3e7","#5acbd6"]},"legend":null}}},
{"data":{"name":"hg"},"mark":{"type":"rule","color":"#000"},"encoding":{"x":{"datum":2,"type":"quantitative","scale":{"domain":[2,20],"nice":false,"zero":false},"axis":null},"x2":{"datum":20},"y":{"field":"c","type":"quantitative","scale":{"domain":[41.3,196.6],"nice":false,"zero":false},"axis":null},"strokeWidth":{"condition":{"test":"datum.c % 5 === 0","value":1},"value":0.4},"opacity":{"condition":{"test":"datum.c % 5 === 0","value":1},"value":0.55}}},
{"data":{"name":"vg"},"mark":{"type":"rule","color":"#000"},"encoding":{"x":{"field":"a","type":"quantitative","scale":{"domain":[2,20],"nice":false,"zero":false},"axis":null},"y":{"datum":41.3,"type":"quantitative","scale":{"domain":[41.3,196.6],"nice":false,"zero":false},"axis":null},"y2":{"datum":196.6},"strokeWidth":{"condition":{"test":"datum.a % 1 === 0","value":1.2},"value":0.5},"opacity":{"condition":{"test":"datum.a % 1 === 0","value":1},"value":0.7}}},
{"data":{"name":"bS"},"transform":[{"fold":["5","10","25","50","75","90","95"],"as":["pct","cm"]}],"mark":{"type":"line","interpolate":"monotone","color":"#000"},"encoding":{"x":{"field":"age","type":"quantitative","scale":{"domain":[2,20],"nice":false,"zero":false},"axis":null},"y":{"field":"cm","type":"quantitative","scale":{"domain":[41.3,196.6],"nice":false,"zero":false},"axis":null},"detail":{"field":"pct","type":"nominal"},"strokeWidth":{"condition":{"test":"datum.pct==='5'||datum.pct==='50'||datum.pct==='95'","value":1.7},"value":0.9}}},
{"data":{"name":"bS"},"transform":[{"filter":"datum.age===20"},{"fold":["5","10","25","50","75","90","95"],"as":["pct","cm"]}],"mark":{"type":"rect","fill":"#fff","yOffset":-2.2,"y2Offset":2.2},"encoding":{"x":{"datum":19.25,"type":"quantitative","scale":{"domain":[2,20],"nice":false,"zero":false},"axis":null},"x2":{"datum":19.85},"y":{"field":"cm","type":"quantitative","scale":{"domain":[41.3,196.6],"nice":false,"zero":false},"axis":null},"y2":{"field":"cm"}}},
{"data":{"name":"bS"},"transform":[{"filter":"datum.age===20"},{"fold":["5","10","25","50","75","90","95"],"as":["pct","cm"]}],"mark":{"type":"text","fontSize":4.3,"fontWeight":"bold","align":"center","baseline":"middle"},"encoding":{"x":{"datum":19.55,"type":"quantitative","scale":{"domain":[2,20],"nice":false,"zero":false},"axis":null},"y":{"field":"cm","type":"quantitative","scale":{"domain":[41.3,196.6],"nice":false,"zero":false},"axis":null},"text":{"field":"pct","type":"nominal"}}},
{"data":{"name":"one"},"mark":{"type":"rect","fill":"#e0f5f5","stroke":"#000","strokeWidth":1},"encoding":{"x":{"datum":-0.5,"type":"quantitative","scale":{"domain":[2,20],"nice":false,"zero":false},"axis":null},"x2":{"datum":2},"y":{"datum":75.4,"type":"quantitative","scale":{"domain":[41.3,196.6],"nice":false,"zero":false},"axis":null},"y2":{"datum":166.6}}},
{"data":{"name":"one"},"mark":{"type":"rect","fill":"#e0f5f5","stroke":"#000","strokeWidth":1},"encoding":{"x":{"datum":-0.5,"type":"quantitative","scale":{"domain":[2,20],"nice":false,"zero":false},"axis":null},"x2":{"datum":2},"y":{"datum":41.3,"type":"quantitative","scale":{"domain":[41.3,196.6],"nice":false,"zero":false},"axis":null},"y2":{"datum":74.3}}},
{"data":{"name":"one"},"mark":{"type":"rect","fill":"#ffffff","stroke":"#000","strokeWidth":1},"encoding":{"x":{"datum":20,"type":"quantitative","scale":{"domain":[2,20],"nice":false,"zero":false},"axis":null},"x2":{"datum":22.5},"y":{"datum":148.4,"type":"quantitative","scale":{"domain":[41.3,196.6],"nice":false,"zero":false},"axis":null},"y2":{"datum":196.6}}},
{"data":{"name":"one"},"mark":{"type":"rect","fill":"#ffffff","stroke":"#000","strokeWidth":1},"encoding":{"x":{"datum":20,"type":"quantitative","scale":{"domain":[2,20],"nice":false,"zero":false},"axis":null},"x2":{"datum":22.5},"y":{"datum":41.3,"type":"quantitative","scale":{"domain":[41.3,196.6],"nice":false,"zero":false},"axis":null},"y2":{"datum":145.7}}},
{"data":{"name":"one"},"mark":{"type":"rule","color":"#000","strokeWidth":0.8},"encoding":{"x":{"datum":0.75,"type":"quantitative","scale":{"domain":[2,20],"nice":false,"zero":false},"axis":null},"y":{"datum":75.4,"type":"quantitative","scale":{"domain":[41.3,196.6],"nice":false,"zero":false},"axis":null},"y2":{"datum":166.6}}},
{"data":{"name":"one"},"mark":{"type":"rule","color":"#000","strokeWidth":0.8},"encoding":{"x":{"datum":0.75,"type":"quantitative","scale":{"domain":[2,20],"nice":false,"zero":false},"axis":null},"y":{"datum":41.3,"type":"quantitative","scale":{"domain":[41.3,196.6],"nice":false,"zero":false},"axis":null},"y2":{"datum":74.3}}},
{"data":{"name":"one"},"mark":{"type":"rule","color":"#000","strokeWidth":0.8},"encoding":{"x":{"datum":21.25,"type":"quantitative","scale":{"domain":[2,20],"nice":false,"zero":false},"axis":null},"y":{"datum":148.4,"type":"quantitative","scale":{"domain":[41.3,196.6],"nice":false,"zero":false},"axis":null},"y2":{"datum":196.6}}},
{"data":{"name":"one"},"mark":{"type":"rule","color":"#000","strokeWidth":0.8},"encoding":{"x":{"datum":21.25,"type":"quantitative","scale":{"domain":[2,20],"nice":false,"zero":false},"axis":null},"y":{"datum":41.3,"type":"quantitative","scale":{"domain":[41.3,196.6],"nice":false,"zero":false},"axis":null},"y2":{"datum":145.7}}},
{"data":{"name":"one"},"mark":{"type":"rule","color":"#000","strokeWidth":0.8},"encoding":{"x":{"datum":-0.5,"type":"quantitative","scale":{"domain":[2,20],"nice":false,"zero":false},"axis":null},"x2":{"datum":2},"y":{"datum":163.0,"type":"quantitative","scale":{"domain":[41.3,196.6],"nice":false,"zero":false},"axis":null}}},
{"data":{"name":"one"},"mark":{"type":"rule","color":"#000","strokeWidth":0.8},"encoding":{"x":{"datum":-0.5,"type":"quantitative","scale":{"domain":[2,20],"nice":false,"zero":false},"axis":null},"x2":{"datum":2},"y":{"datum":44.6,"type":"quantitative","scale":{"domain":[41.3,196.6],"nice":false,"zero":false},"axis":null}}},
{"data":{"name":"one"},"mark":{"type":"rule","color":"#000","strokeWidth":0.8},"encoding":{"x":{"datum":20,"type":"quantitative","scale":{"domain":[2,20],"nice":false,"zero":false},"axis":null},"x2":{"datum":22.5},"y":{"datum":193.4,"type":"quantitative","scale":{"domain":[41.3,196.6],"nice":false,"zero":false},"axis":null}}},
{"data":{"name":"one"},"mark":{"type":"rule","color":"#000","strokeWidth":0.8},"encoding":{"x":{"datum":20,"type":"quantitative","scale":{"domain":[2,20],"nice":false,"zero":false},"axis":null},"x2":{"datum":22.5},"y":{"datum":44.6,"type":"quantitative","scale":{"domain":[41.3,196.6],"nice":false,"zero":false},"axis":null}}},
{"data":{"name":"bands"},"mark":{"type":"rect"},"encoding":{"x":{"field":"from","type":"quantitative","scale":{"domain":[2,20],"nice":false,"zero":false},"axis":null},"x2":{"field":"to"},"y":{"datum":25.85,"type":"quantitative","scale":{"domain":[41.3,196.6],"nice":false,"zero":false},"axis":null},"y2":{"datum":40.87},"fill":{"field":"dose","type":"nominal","scale":{"domain":["NAC\n200-400 mg/day","NAC\n400-600 mg/day","NAC\n600 mg/day"],"range":["#d2f1f2","#a9e5e9","#7bd8e1"]},"legend":null}}},
{"data":{"name":"one"},"mark":{"type":"rect","fill":"#d2f1f2"},"encoding":{"x":{"datum":-0.5,"type":"quantitative","scale":{"domain":[2,20],"nice":false,"zero":false},"axis":null},"x2":{"datum":2},"y":{"datum":25.85,"type":"quantitative","scale":{"domain":[41.3,196.6],"nice":false,"zero":false},"axis":null},"y2":{"datum":40.87}}},
{"data":{"name":"bands"},"transform":[{"filter":"datum.from===2"}],"mark":{"type":"text","fontSize":10,"fontWeight":"bold","lineBreak":"\n","lineHeight":11.5,"align":"center","baseline":"middle"},"encoding":{"x":{"datum":2.75,"type":"quantitative","scale":{"domain":[2,20],"nice":false,"zero":false},"axis":null},"y":{"datum":31.8,"type":"quantitative","scale":{"domain":[41.3,196.6],"nice":false,"zero":false},"axis":null},"text":{"field":"dose","type":"nominal"}}},
{"data":{"name":"bands"},"transform":[{"filter":"datum.from===6"}],"mark":{"type":"text","fontSize":10,"fontWeight":"bold","lineBreak":"\n","lineHeight":11.5,"align":"center","baseline":"middle"},"encoding":{"x":{"datum":9,"type":"quantitative","scale":{"domain":[2,20],"nice":false,"zero":false},"axis":null},"y":{"datum":31.8,"type":"quantitative","scale":{"domain":[41.3,196.6],"nice":false,"zero":false},"axis":null},"text":{"field":"dose","type":"nominal"}}},
{"data":{"name":"bands"},"transform":[{"filter":"datum.from===12"}],"mark":{"type":"text","fontSize":10,"fontWeight":"bold","lineBreak":"\n","lineHeight":11.5,"align":"center","baseline":"middle"},"encoding":{"x":{"datum":16,"type":"quantitative","scale":{"domain":[2,20],"nice":false,"zero":false},"axis":null},"y":{"datum":31.8,"type":"quantitative","scale":{"domain":[41.3,196.6],"nice":false,"zero":false},"axis":null},"text":{"field":"dose","type":"nominal"}}},
{"data":{"name":"bS"},"mark":{"type":"text","fontSize":7,"fontWeight":"bold","align":"center","baseline":"middle"},"encoding":{"x":{"field":"age","type":"quantitative","scale":{"domain":[2,20],"nice":false,"zero":false},"axis":null},"y":{"datum":39.2,"type":"quantitative","scale":{"domain":[41.3,196.6],"nice":false,"zero":false},"axis":null},"text":{"field":"age","type":"quantitative"}}},
{"data":{"name":"bS"},"transform":[{"filter":"datum.age>=12"}],"mark":{"type":"text","fontSize":7,"fontWeight":"bold","align":"center","baseline":"middle"},"encoding":{"x":{"field":"age","type":"quantitative","scale":{"domain":[2,20],"nice":false,"zero":false},"axis":null},"y":{"datum":199.4,"type":"quantitative","scale":{"domain":[41.3,196.6],"nice":false,"zero":false},"axis":null},"text":{"field":"age","type":"quantitative"}}},
{"data":{"name":"bS"},"transform":[{"filter":"datum.age>=3 && datum.age<=11"}],"mark":{"type":"text","fontSize":7,"fontWeight":"bold","align":"center","baseline":"middle"},"encoding":{"x":{"field":"age","type":"quantitative","scale":{"domain":[2,20],"nice":false,"zero":false},"axis":null},"y":{"datum":164.9,"type":"quantitative","scale":{"domain":[41.3,196.6],"nice":false,"zero":false},"axis":null},"text":{"field":"age","type":"quantitative"}}},
{"data":{"name":"one"},"mark":{"type":"text","text":"AGE (YEARS)","fontSize":7,"fontWeight":"bold","align":"center","baseline":"middle"},"encoding":{"x":{"datum":14.9,"type":"quantitative","scale":{"domain":[2,20],"nice":false,"zero":false},"axis":null},"y":{"datum":193.6,"type":"quantitative","scale":{"domain":[41.3,196.6],"nice":false,"zero":false},"axis":null}}},
{"data":{"name":"one"},"mark":{"type":"text","text":"AGE (YEARS)","fontSize":7,"fontWeight":"bold","align":"center","baseline":"middle"},"encoding":{"x":{"datum":11.8,"type":"quantitative","scale":{"domain":[2,20],"nice":false,"zero":false},"axis":null},"y":{"datum":44.3,"type":"quantitative","scale":{"domain":[41.3,196.6],"nice":false,"zero":false},"axis":null}}},
{"data":{"name":"one"},"mark":{"type":"text","text":"S\nT\nA\nT\nU\nR\nE","lineBreak":"\n","lineHeight":7.6,"fontSize":7,"fontWeight":"bold","align":"center","baseline":"middle"},"encoding":{"x":{"datum":-1.0,"type":"quantitative","scale":{"domain":[2,20],"nice":false,"zero":false},"axis":null},"y":{"datum":126.0,"type":"quantitative","scale":{"domain":[41.3,196.6],"nice":false,"zero":false},"axis":null}}},
{"data":{"name":"one"},"mark":{"type":"text","text":"W\nE\nI\nG\nH\nT","lineBreak":"\n","lineHeight":7.6,"fontSize":7,"fontWeight":"bold","align":"center","baseline":"middle"},"encoding":{"x":{"datum":-1.0,"type":"quantitative","scale":{"domain":[2,20],"nice":false,"zero":false},"axis":null},"y":{"datum":59.5,"type":"quantitative","scale":{"domain":[41.3,196.6],"nice":false,"zero":false},"axis":null}}},
{"data":{"name":"one"},"mark":{"type":"text","text":"S\nT\nA\nT\nU\nR\nE","lineBreak":"\n","lineHeight":7.4,"fontSize":7,"fontWeight":"bold","align":"center","baseline":"middle"},"encoding":{"x":{"datum":23.05,"type":"quantitative","scale":{"domain":[2,20],"nice":false,"zero":false},"axis":null},"y":{"datum":175.3,"type":"quantitative","scale":{"domain":[41.3,196.6],"nice":false,"zero":false},"axis":null}}},
{"data":{"name":"one"},"mark":{"type":"text","text":"W\nE\nI\nG\nH\nT","lineBreak":"\n","lineHeight":7.1,"fontSize":7,"fontWeight":"bold","align":"center","baseline":"middle"},"encoding":{"x":{"datum":23.05,"type":"quantitative","scale":{"domain":[2,20],"nice":false,"zero":false},"axis":null},"y":{"datum":96.0,"type":"quantitative","scale":{"domain":[41.3,196.6],"nice":false,"zero":false},"axis":null}}},
{"data":{"name":"one"},"mark":{"type":"text","text":"B","fontSize":22,"fontWeight":"bold","align":"left","baseline":"alphabetic"},"encoding":{"x":{"datum":-1.95,"type":"quantitative","scale":{"domain":[2,20],"nice":false,"zero":false},"axis":null},"y":{"datum":193.2,"type":"quantitative","scale":{"domain":[41.3,196.6],"nice":false,"zero":false},"axis":null}}}
]},
{"layer":[
{"data":{"name":"bW"},"transform":[{"fold":["5","10","25","50","75","90","95"],"as":["pct","kg"]}],"mark":{"type":"line","interpolate":"monotone","color":"#000"},"encoding":{"x":{"field":"age","type":"quantitative","scale":{"domain":[2,20],"nice":false,"zero":false},"axis":null},"y":{"field":"kg","type":"quantitative","scale":{"domain":[6.3,161.6],"nice":false,"zero":false},"axis":null},"detail":{"field":"pct","type":"nominal"},"strokeWidth":{"condition":{"test":"datum.pct==='5'||datum.pct==='50'||datum.pct==='95'","value":1.7},"value":0.9}}},
{"data":{"name":"bW"},"transform":[{"filter":"datum.age===20"},{"fold":["5","10","25","50","75","90","95"],"as":["pct","kg"]}],"mark":{"type":"rect","fill":"#fff","yOffset":-2.2,"y2Offset":2.2},"encoding":{"x":{"datum":19.25,"type":"quantitative","scale":{"domain":[2,20],"nice":false,"zero":false},"axis":null},"x2":{"datum":19.85},"y":{"field":"kg","type":"quantitative","scale":{"domain":[6.3,161.6],"nice":false,"zero":false},"axis":null},"y2":{"field":"kg"}}},
{"data":{"name":"bW"},"transform":[{"filter":"datum.age===20"},{"fold":["5","10","25","50","75","90","95"],"as":["pct","kg"]}],"mark":{"type":"text","fontSize":4.3,"fontWeight":"bold","align":"center","baseline":"middle"},"encoding":{"x":{"datum":19.55,"type":"quantitative","scale":{"domain":[2,20],"nice":false,"zero":false},"axis":null},"y":{"field":"kg","type":"quantitative","scale":{"domain":[6.3,161.6],"nice":false,"zero":false},"axis":null},"text":{"field":"pct","type":"nominal"}}}
]},
{"layer":[
{"data":{"name":"one"},"mark":{"type":"rect","fill":"#fff","stroke":"#000","strokeWidth":1},"encoding":{"x":{"datum":0.5,"type":"quantitative","scale":{"domain":[1.531,8.975],"nice":false,"zero":false},"axis":null},"x2":{"datum":5.5},"y":{"datum":-0.971,"type":"quantitative","scale":{"domain":[-0.971,55.708],"reverse":true,"nice":false,"zero":false},"axis":null},"y2":{"datum":9.98}}},
{"data":{"name":"formCols"},"mark":{"type":"rect","width":32.24,"fill":"#fff","fillOpacity":0,"stroke":"#000","strokeWidth":0.6},"encoding":{"x":{"field":"col","type":"quantitative","scale":{"domain":[1.531,8.975],"nice":false,"zero":false},"axis":null},"y":{"datum":-0.24,"type":"quantitative","scale":{"domain":[-0.971,55.708],"reverse":true,"nice":false,"zero":false},"axis":null},"y2":{"datum":7}}},
{"data":{"name":"formCols"},"mark":{"type":"text","fontSize":4.3,"align":"center","baseline":"middle"},"encoding":{"x":{"field":"col","type":"quantitative","scale":{"domain":[1.531,8.975],"nice":false,"zero":false},"axis":null},"y":{"datum":0.38,"type":"quantitative","scale":{"domain":[-0.971,55.708],"reverse":true,"nice":false,"zero":false},"axis":null},"text":{"field":"head","type":"nominal"}}},
{"data":{"name":"formRows"},"mark":{"type":"rule","color":"#000","strokeWidth":0.6},"encoding":{"x":{"datum":0.5,"type":"quantitative","scale":{"domain":[1.531,8.975],"nice":false,"zero":false},"axis":null},"x2":{"datum":5.5},"y":{"field":"row","type":"quantitative","scale":{"domain":[-0.971,55.708],"reverse":true,"nice":false,"zero":false},"axis":null}}},
{"data":{"name":"one"},"mark":{"type":"text","text":"Mother's Stature ______________________     Father's Stature ______________________","fontSize":4.3,"align":"center","baseline":"middle"},"encoding":{"x":{"datum":3,"type":"quantitative","scale":{"domain":[1.531,8.975],"nice":false,"zero":false},"axis":null},"y":{"datum":-0.6,"type":"quantitative","scale":{"domain":[-0.971,55.708],"reverse":true,"nice":false,"zero":false},"axis":null}}},
{"data":{"name":"one"},"mark":{"type":"text","text":"*To Calculate BMI: Weight (kg) ÷ Stature (cm) ÷ Stature (cm) x 10,000\nor Weight (lb) ÷ Stature (in) ÷ Stature (in) x 703","lineBreak":"\n","lineHeight":6,"fontSize":4.3,"align":"center","baseline":"middle"},"encoding":{"x":{"datum":3,"type":"quantitative","scale":{"domain":[1.531,8.975],"nice":false,"zero":false},"axis":null},"y":{"datum":8.85,"type":"quantitative","scale":{"domain":[-0.971,55.708],"reverse":true,"nice":false,"zero":false},"axis":null}}}
]},
{"data":{"name":"cmT"},"layer":[
{"mark":{"type":"rule","color":"#000","strokeWidth":0.8,"xOffset":-8.333,"x2Offset":8.333,"strokeDash":[2.3,12.07]},"encoding":{"x":{"field":"s","type":"quantitative","scale":{"domain":[0.032468,0.967532],"nice":false,"zero":false},"axis":null},"x2":{"field":"s"},"y":{"field":"v","type":"quantitative","scale":{"domain":[41.3,196.6],"nice":false,"zero":false},"axis":null}}},
{"mark":{"type":"text","fontSize":6.5,"align":"center","baseline":"middle"},"encoding":{"x":{"field":"s","type":"quantitative","scale":{"domain":[0.032468,0.967532],"nice":false,"zero":false},"axis":null},"y":{"field":"v","type":"quantitative","scale":{"domain":[41.3,196.6],"nice":false,"zero":false},"axis":null},"text":{"field":"v","type":"quantitative"}}},
{"data":{"name":"one"},"mark":{"type":"text","text":"cm","fontSize":6.5,"fontWeight":"bold","align":"center","baseline":"middle"},"encoding":{"x":{"datum":0,"type":"quantitative","scale":{"domain":[0.032468,0.967532],"nice":false,"zero":false},"axis":null},"y":{"datum":164.8,"type":"quantitative","scale":{"domain":[41.3,196.6],"nice":false,"zero":false},"axis":null}}},
{"data":{"name":"one"},"mark":{"type":"text","text":"cm.","fontSize":6,"fontWeight":"bold","align":"center","baseline":"middle"},"encoding":{"x":{"datum":1,"type":"quantitative","scale":{"domain":[0.032468,0.967532],"nice":false,"zero":false},"axis":null},"y":{"datum":195.6,"type":"quantitative","scale":{"domain":[41.3,196.6],"nice":false,"zero":false},"axis":null}}}
]},
{"data":{"name":"kgT"},"layer":[
{"mark":{"type":"rule","color":"#000","strokeWidth":0.8,"xOffset":-8.333,"x2Offset":8.333,"strokeDash":[2.3,12.07]},"encoding":{"x":{"field":"s","type":"quantitative","scale":{"domain":[0.032468,0.967532],"nice":false,"zero":false},"axis":null},"x2":{"field":"s"},"y":{"field":"v","type":"quantitative","scale":{"domain":[6.3,161.6],"nice":false,"zero":false},"axis":null}}},
{"mark":{"type":"text","fontSize":6.5,"align":"center","baseline":"middle"},"encoding":{"x":{"field":"s","type":"quantitative","scale":{"domain":[0.032468,0.967532],"nice":false,"zero":false},"axis":null},"y":{"field":"v","type":"quantitative","scale":{"domain":[6.3,161.6],"nice":false,"zero":false},"axis":null},"text":{"field":"v","type":"quantitative"}}},
{"data":{"name":"sides"},"mark":{"type":"text","text":"kg","fontSize":6.2,"fontWeight":"bold","align":"center","baseline":"middle"},"encoding":{"x":{"field":"s","type":"quantitative","scale":{"domain":[0.032468,0.967532],"nice":false,"zero":false},"axis":null},"y":{"datum":7.45,"type":"quantitative","scale":{"domain":[6.3,161.6],"nice":false,"zero":false},"axis":null}}}
]},
{"data":{"name":"inT"},"layer":[
{"mark":{"type":"rule","color":"#000","strokeWidth":0.8,"xOffset":-8.333,"x2Offset":8.333,"strokeDash":[2.3,12.07]},"encoding":{"x":{"field":"s","type":"quantitative","scale":{"domain":[0.086207,0.913793],"nice":false,"zero":false},"axis":null},"x2":{"field":"s"},"y":{"field":"v","type":"quantitative","scale":{"domain":[16.2598,77.4016],"nice":false,"zero":false},"axis":null}}},
{"mark":{"type":"text","fontSize":6.3,"align":"center","baseline":"middle"},"encoding":{"x":{"field":"s","type":"quantitative","scale":{"domain":[0.086207,0.913793],"nice":false,"zero":false},"axis":null},"y":{"field":"v","type":"quantitative","scale":{"domain":[16.2598,77.4016],"nice":false,"zero":false},"axis":null},"text":{"field":"v","type":"quantitative"}}},
{"data":{"name":"one"},"mark":{"type":"text","text":"in","fontSize":6.5,"fontWeight":"bold","align":"center","baseline":"middle"},"encoding":{"x":{"datum":0,"type":"quantitative","scale":{"domain":[0.086207,0.913793],"nice":false,"zero":false},"axis":null},"y":{"datum":64.88,"type":"quantitative","scale":{"domain":[16.2598,77.4016],"nice":false,"zero":false},"axis":null}}},
{"data":{"name":"one"},"mark":{"type":"text","text":"in","fontSize":6,"fontWeight":"bold","align":"center","baseline":"middle"},"encoding":{"x":{"datum":1,"type":"quantitative","scale":{"domain":[0.086207,0.913793],"nice":false,"zero":false},"axis":null},"y":{"datum":77.05,"type":"quantitative","scale":{"domain":[16.2598,77.4016],"nice":false,"zero":false},"axis":null}}}
]},
{"data":{"name":"lbT"},"layer":[
{"mark":{"type":"rule","color":"#000","strokeWidth":0.8,"xOffset":-8.333,"x2Offset":8.333,"strokeDash":[2.3,12.07]},"encoding":{"x":{"field":"s","type":"quantitative","scale":{"domain":[0.086207,0.913793],"nice":false,"zero":false},"axis":null},"x2":{"field":"s"},"y":{"field":"v","type":"quantitative","scale":{"domain":[13.889,356.267],"nice":false,"zero":false},"axis":null}}},
{"mark":{"type":"text","fontSize":6.5,"align":"center","baseline":"middle"},"encoding":{"x":{"field":"s","type":"quantitative","scale":{"domain":[0.086207,0.913793],"nice":false,"zero":false},"axis":null},"y":{"field":"v","type":"quantitative","scale":{"domain":[13.889,356.267],"nice":false,"zero":false},"axis":null},"text":{"field":"v","type":"quantitative"}}},
{"data":{"name":"sides"},"mark":{"type":"text","text":"lb","fontSize":6.2,"fontWeight":"bold","align":"center","baseline":"middle"},"encoding":{"x":{"field":"s","type":"quantitative","scale":{"domain":[0.086207,0.913793],"nice":false,"zero":false},"axis":null},"y":{"datum":16.42,"type":"quantitative","scale":{"domain":[13.889,356.267],"nice":false,"zero":false},"axis":null}}}
]}
]}
]
}
